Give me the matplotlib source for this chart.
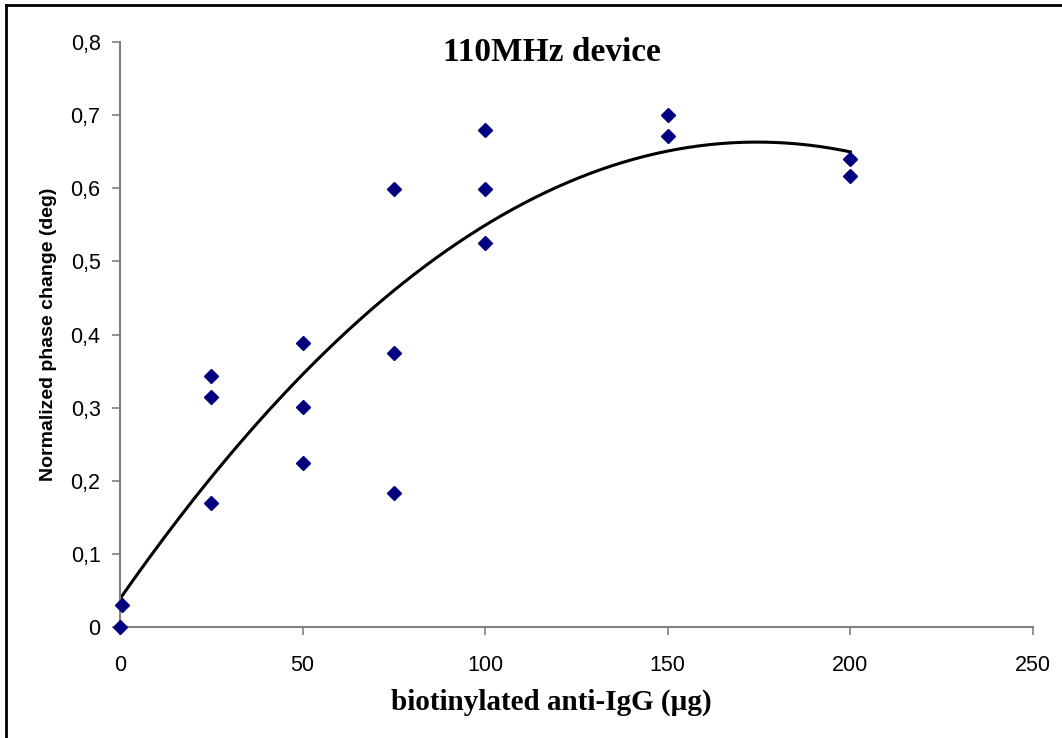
import matplotlib
matplotlib.use("Agg")
import matplotlib.pyplot as plt
from matplotlib.lines import Line2D
from matplotlib.ticker import FuncFormatter
import numpy as np

# measured points: dose (ug) vs normalized phase change (deg)
dose = [0, 0.5, 25, 25, 25, 50, 50, 50, 75, 75, 75, 100, 100, 100, 150, 150, 200, 200]
phase = [0.0, 0.030, 0.343, 0.315, 0.170, 0.389, 0.301, 0.224, 0.599, 0.375, 0.183,
         0.680, 0.599, 0.525, 0.700, 0.672, 0.640, 0.617]

x_ticks = [0, 50, 100, 150, 200, 250]
y_ticks = [0, 0.1, 0.2, 0.3, 0.4, 0.5, 0.6, 0.7, 0.8]

fig = plt.figure(figsize=(10.62, 7.38), dpi=100)
ax = fig.add_axes([0.113, 0.1504, 0.8597, 0.7926])

# 2nd order polynomial trend line, like the spreadsheet one
coef = np.polyfit(dose, phase, 2)
xs = np.linspace(0, 200, 200)
ax.plot(xs, np.polyval(coef, xs), color="black", lw=2.2, zorder=2)
ax.plot(dose, phase, "D", color="#000080", ms=7.5, zorder=3, clip_on=False)

ax.set_xlim(0, 250)
ax.set_ylim(0, 0.8)
ax.set_xticks(x_ticks)
ax.set_yticks(y_ticks)
ax.yaxis.set_major_formatter(FuncFormatter(lambda v, p: ("%g" % round(v, 1)).replace(".", ",")))
for s in ("top", "right"):
    ax.spines[s].set_visible(False)
for s in ("left", "bottom"):
    ax.spines[s].set_color("#808080")
    ax.spines[s].set_linewidth(1.5)
ax.tick_params(direction="out", length=6, width=1.2, color="#808080", labelsize=15.5)
ax.tick_params(axis="x", pad=14)
ax.tick_params(axis="y", pad=8)
for lab in ax.get_xticklabels() + ax.get_yticklabels():
    lab.set_family("Liberation Sans")

ax.set_xlabel("biotinylated anti-IgG (µg)", family="Liberation Serif",
              fontweight="bold", fontsize=21)
ax.xaxis.set_label_coords(0.472, -0.105)
ax.set_ylabel("Normalized phase change (deg)", family="Liberation Sans",
              fontweight="bold", fontsize=14, labelpad=10)
ax.text(0.473, 0.983, "110MHz device", transform=ax.transAxes, ha="center",
        va="center", family="Liberation Serif", fontweight="bold", fontsize=24)

# chart frame: only top and left edges are visible in the crop
fig.add_artist(Line2D([0.0057, 1.0], [0.9932, 0.9932], color="black", lw=2,
                      transform=fig.transFigure))
fig.add_artist(Line2D([0.0057, 0.0057], [0.0, 0.9932], color="black", lw=2,
                      transform=fig.transFigure))

fig.savefig("out.png", dpi=100)
